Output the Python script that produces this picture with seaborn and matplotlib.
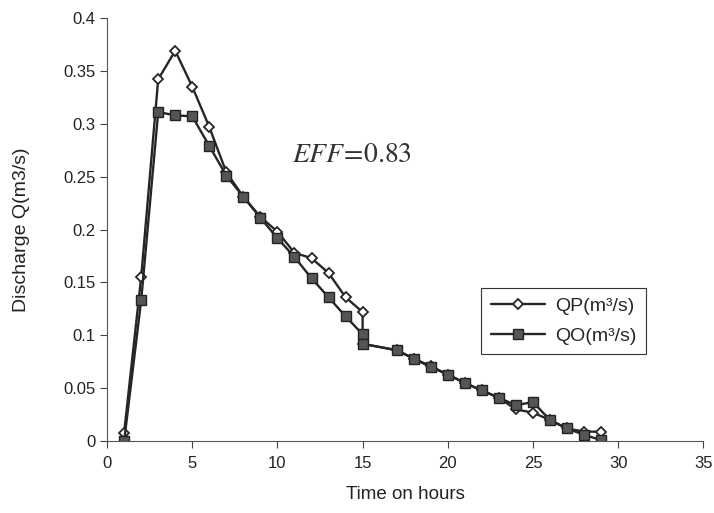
import matplotlib
matplotlib.use('Agg')
import matplotlib.pyplot as plt
import seaborn as sns
import pandas as pd
import numpy as np

# hours (x=15 appears twice in the original series)
hours = [1, 2, 3, 4, 5, 6, 7, 8, 9, 10, 11, 12, 13, 14, 15, 15,
         17, 18, 19, 20, 21, 22, 23, 24, 25, 26, 27, 28, 29]

# predicted discharge
qp = [0.008, 0.155, 0.342, 0.369, 0.335, 0.297, 0.254, 0.231, 0.212, 0.198,
      0.178, 0.173, 0.159, 0.136, 0.122, 0.092,
      0.086, 0.078, 0.071, 0.063, 0.055, 0.048, 0.041, 0.030, 0.027,
      0.020, 0.012, 0.009, 0.009]

# observed discharge
qo = [0.0, 0.133, 0.311, 0.308, 0.307, 0.279, 0.251, 0.231, 0.211, 0.192,
      0.174, 0.154, 0.136, 0.118, 0.101, 0.092,
      0.086, 0.078, 0.070, 0.063, 0.055, 0.048, 0.041, 0.034, 0.037,
      0.020, 0.012, 0.006, 0.001]

sns.set_style('ticks')
plt.rcParams['font.family'] = ['Liberation Sans', 'DejaVu Sans']
plt.rcParams['mathtext.fontset'] = 'stix'

df = pd.DataFrame({'hours': hours, 'qp': qp, 'qo': qo})

fig = plt.figure(figsize=(7.14, 5.13), dpi=100)
ax = fig.add_axes([0.150, 0.140, 0.835, 0.825])

sns.lineplot(data=df, x='hours', y='qp', ax=ax, sort=False, estimator=None,
             color='#262626', linewidth=1.7, marker='D', markersize=5.5,
             markerfacecolor='white', markeredgecolor='#262626',
             markeredgewidth=1.3, label='QP(m³/s)')
sns.lineplot(data=df, x='hours', y='qo', ax=ax, sort=False, estimator=None,
             color='#262626', linewidth=1.7, marker='s', markersize=7.5,
             markerfacecolor='#555555', markeredgecolor='#222222',
             markeredgewidth=1.0, label='QO(m³/s)')

ax.set_xlim(0, 35)
ax.set_ylim(0, 0.4)
ax.set_xticks(np.arange(0, 36, 5))
ax.set_yticks(np.arange(0, 0.41, 0.05))
ax.set_yticklabels(['0', '0.05', '0.1', '0.15', '0.2', '0.25', '0.3', '0.35', '0.4'])
ax.tick_params(axis='both', direction='out', length=5, width=0.8,
               labelsize=12, colors='#444444', labelcolor='#222222')
ax.tick_params(axis='x', pad=6)
for s in ['left', 'bottom']:
    ax.spines[s].set_color('#555555')
    ax.spines[s].set_linewidth(0.8)
sns.despine(ax=ax)

ax.set_xlabel('Time on hours', fontsize=13.5, color='#222222')
ax.set_ylabel('Discharge Q(m3/s)', fontsize=14, color='#222222')
ax.xaxis.set_label_coords(0.5, -0.105)
ax.yaxis.set_label_coords(-0.13, 0.5)

ax.text(0.41, 0.676, r'$\mathit{EFF}\!=\!0.83$', transform=ax.transAxes,
        fontsize=20, ha='center', va='center', color='#333333')

leg = ax.legend(loc='upper right', bbox_to_anchor=(0.92, 0.385),
                frameon=True, fancybox=False, fontsize=14,
                handlelength=2.8, borderpad=0.5, labelspacing=0.6,
                handletextpad=0.5, framealpha=1)
leg.get_frame().set_edgecolor('#333333')
leg.get_frame().set_linewidth(0.8)

fig.savefig('out.png', dpi=100)
